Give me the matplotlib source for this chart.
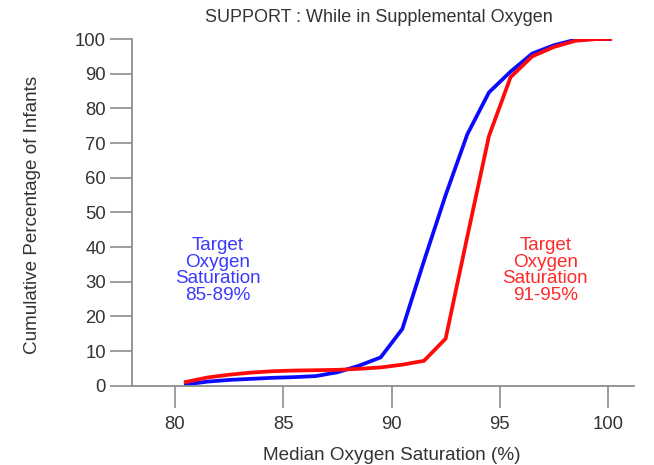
import matplotlib
matplotlib.use("Agg")
import matplotlib.pyplot as plt

plt.rcParams['font.family'] = ['Liberation Sans', 'DejaVu Sans']

saturation = [80.5, 81.5, 82.5, 83.5, 84.5, 85.5, 86.5, 87.5, 88.5, 89.5,
              90.5, 91.5, 92.5, 93.5, 94.5, 95.5, 96.5, 97.5, 98.5, 99.5, 100.1]
low_target = [0.4, 1.2, 1.7, 2.0, 2.3, 2.5, 2.8, 3.9, 5.8, 8.2,
              16.4, 36.0, 55.0, 72.5, 84.6, 90.6, 95.8, 98.2, 99.8, 100, 100]
high_target = [1.1, 2.4, 3.2, 3.8, 4.2, 4.4, 4.5, 4.6, 4.9, 5.3,
               6.1, 7.2, 13.6, 43.0, 72.0, 89.0, 95.0, 97.7, 99.5, 100, 100]
x_ticks = [80, 85, 90, 95, 100]
y_ticks = [0, 10, 20, 30, 40, 50, 60, 70, 80, 90, 100]

W, H = 654, 465
fig = plt.figure(figsize=(W / 100, H / 100), dpi=100)
left, right, top, bottom = 131.7, 634, 39, 385.8
ax = fig.add_axes([left / W, 1 - bottom / H, (right - left) / W, (bottom - top) / H])

ax.plot(saturation, low_target, color='#0a0aff', lw=2.7, solid_joinstyle='miter')
ax.plot(saturation, high_target, color='#ff0a0a', lw=2.7, solid_joinstyle='miter')

ax.set_xlim(78, 101.2)
ax.set_ylim(0, 100)
ax.set_xticks(x_ticks)
ax.set_yticks(y_ticks)
for s in ['top', 'right']:
    ax.spines[s].set_visible(False)
for s in ['left', 'bottom']:
    ax.spines[s].set_color('#8c8c8c')
    ax.spines[s].set_linewidth(1.3)
ax.tick_params(axis='both', direction='out', length=15.5, width=1.2, color='#8c8c8c',
               labelsize=13.3, labelcolor='#333333')
ax.tick_params(axis='y', pad=3)
ax.tick_params(axis='x', pad=6)

fig.text(379 / W, 1 - 18 / H, 'SUPPORT : While in Supplemental Oxygen', ha='center', va='center',
         fontsize=13, color='#333333')
fig.text(33 / W, 1 - 215 / H, 'Cumulative Percentage of Infants', ha='center', va='center',
         rotation=90, fontsize=13.6, color='#333333')
fig.text(392 / W, 1 - 455 / H, 'Median Oxygen Saturation (%)', ha='center', va='center',
         fontsize=13.6, color='#333333')

ax.text(81.96, 33.2, 'Target\nOxygen\nSaturation\n85-89%', ha='center', va='center',
        fontsize=13.6, color='#3a3aff', linespacing=0.96)
ax.text(97.1, 33.2, 'Target\nOxygen\nSaturation\n91-95%', ha='center', va='center',
        fontsize=13.6, color='#ff2a2a', linespacing=0.96)

fig.savefig('out.png', dpi=100)
